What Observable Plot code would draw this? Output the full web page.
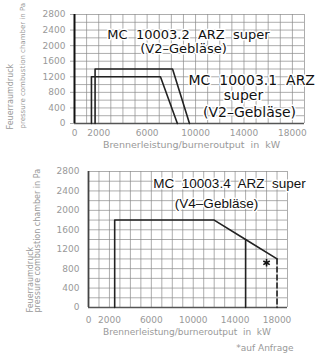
<!DOCTYPE html>
<html>
<head>
<meta charset="utf-8">
<script src="https://cdn.jsdelivr.net/npm/d3@7"></script>
<script src="https://cdn.jsdelivr.net/npm/@observablehq/plot@0.6"></script>
<style>
  html, body { margin: 0; padding: 0; background: white; width: 324px; height: 356px; overflow: hidden; }
  #chartTop, #chartBottom { display: block; }
  svg { display: block; }
  g[aria-label="title"] text { word-spacing: 5.5px; }
  g[aria-label="title2"] text { word-spacing: 3px; }
  g[aria-label="xlabel"] text { letter-spacing: 0.6px; word-spacing: 4px; }
  g[aria-label="ylabel"] text { letter-spacing: 0.2px; }
</style>
</head>
<body>
<div id="chartTop"></div>
<div id="chartBottom"></div>
<script>
// ---- data ----
const xTicks = [0, 2000, 6000, 10000, 14000, 18000];
const yTicks = [0, 400, 800, 1200, 1600, 2000, 2400, 2800];
const xGrid = [0,1000,2000,3000,4000,5000,6000,7000,8000,9000,10000,11000,12000,13000,14000,15000,16000,17000,18000,19000];
const yGrid = [0,200,400,600,800,1000,1200,1400,1600,1800,2000,2200,2400,2600,2800];

// MC 10003.2 ARZ super (V2)
const v32x = [1700, 1700, 8100, 9500];
const v32y = [0, 1400, 1400, 0];
// MC 10003.1 ARZ super (V2)
const v31x = [1400, 1400, 7100, 8500];
const v31y = [0, 1200, 1200, 0];
// MC 10003.4 ARZ super (V4)
const v4x = [2500, 2500, 12000, 15000, 18000];
const v4y = [0, 1800, 1800, 1400, 1000];
const v4limX = [15000, 15000];
const v4limY = [1400, 0];
const v4reqX = [18000, 18000];   // on request (dashed)
const v4reqY = [1000, 0];
const starX = [17000];
const starY = [920];

const xLabel = "Brennerleistung/burneroutput  in  kW";
const yLabel1 = "Feuerraumdruck";
const yLabel2 = "pressure combustion chamber in Pa";
const note = "*auf Anfrage";

const topLabels = [
  {t: "MC  10003.2  ARZ  super", x: 9418, y: 2290, a: "middle", s: 13},
  {t: "(V2–Gebläse)", x: 9005, y: 1910, a: "middle", s: 13},
  {t: "MC  10003.1  ARZ", x: 9418, y: 1105, a: "start", s: 14},
  {t: "super", x: 13960, y: 719, a: "middle", s: 14},
  {t: "(V2–Gebläse)", x: 14457, y: 283, a: "middle", s: 14}
];
const bottomLabels = [
  {t: "MC  10003.4  ARZ  super", x: 13462, y: 2549, a: "middle", s: 13.5},
  {t: "(V4–Gebläse)", x: 12221, y: 2139, a: "middle", s: 13.5}
];

const pts = (xs, ys) => xs.map((x, i) => ({x, y: ys[i]}));
const fmt = d => String(d);
const gridStyle = {stroke: "#8a8a8a", strokeOpacity: 1, strokeWidth: 0.7};

function labelMarks(labels, font, tag) {
  return labels.map(l => Plot.text([l], {
    x: "x", y: "y", text: "t", textAnchor: l.a, fontSize: l.s,
    fontFamily: font, fill: "#111", stroke: "white", strokeWidth: 3,
    ariaLabel: tag
  }));
}

// ---- top chart ----
const plotTop = Plot.plot({
  width: 324, height: 160,
  marginLeft: 74, marginRight: 20, marginTop: 14, marginBottom: 37,
  style: {fontFamily: "DejaVu Sans", fontSize: "9px", color: "#8c8c8c", background: "white", overflow: "visible"},
  x: {domain: [0, 19000]},
  y: {domain: [0, 2800]},
  marks: [
    Plot.gridX(xGrid, gridStyle),
    Plot.gridY(yGrid, gridStyle),
    Plot.axisX(xTicks, {tickSize: 0, tickPadding: 6, label: null, tickFormat: fmt, fill: "#999"}),
    Plot.axisY(yTicks, {tickSize: 4, tickPadding: 5, label: null, tickFormat: fmt, fill: "#999", stroke: "#aaa"}),
    Plot.ruleY([0], {stroke: "#555", strokeWidth: 1.6}),
    Plot.ruleX([0], {stroke: "#111", strokeWidth: 2}),
    Plot.line(pts(v31x, v31y), {x: "x", y: "y", stroke: "#222", strokeWidth: 1.6}),
    Plot.line(pts(v32x, v32y), {x: "x", y: "y", stroke: "#222", strokeWidth: 1.6}),
    ...labelMarks(topLabels, "DejaVu Sans", "title"),
    Plot.text([xLabel], {text: d => d, frameAnchor: "bottom", dx: 2, dy: 24.5, fontSize: 9.5, fill: "#999", ariaLabel: "xlabel"}),
    Plot.text([yLabel1], {text: d => d, frameAnchor: "bottom-left", rotate: -90, textAnchor: "start", dx: -62, dy: 6, fontSize: 8, fill: "#999", ariaLabel: "ylabel"}),
    Plot.text([yLabel2], {text: d => d, frameAnchor: "bottom-left", rotate: -90, textAnchor: "start", dx: -50, dy: 5, fontSize: 7, fill: "#999", ariaLabel: "ylabel"})
  ]
});
document.getElementById("chartTop").append(plotTop);

// ---- bottom chart ----
const plotBottom = Plot.plot({
  width: 324, height: 196,
  marginLeft: 88, marginRight: 37, marginTop: 11, marginBottom: 49,
  style: {fontFamily: "DejaVu Sans", fontSize: "9px", color: "#8c8c8c", background: "white", overflow: "visible"},
  x: {domain: [0, 19000]},
  y: {domain: [0, 2800]},
  marks: [
    Plot.gridX(xGrid, gridStyle),
    Plot.gridY(yGrid, gridStyle),
    Plot.axisX(xTicks, {tickSize: 0, tickPadding: 9, label: null, tickFormat: fmt, fill: "#999"}),
    Plot.axisY(yTicks, {tickSize: 0, tickPadding: 9, label: null, tickFormat: fmt, fill: "#999"}),
    Plot.ruleY([0], {stroke: "#555", strokeWidth: 1.6}),
    Plot.ruleX([0], {stroke: "#444", strokeWidth: 1.8}),
    Plot.line(pts(v4x, v4y), {x: "x", y: "y", stroke: "#222", strokeWidth: 1.6}),
    Plot.line(pts(v4limX, v4limY), {x: "x", y: "y", stroke: "#222", strokeWidth: 1.6}),
    Plot.line(pts(v4reqX, v4reqY), {x: "x", y: "y", stroke: "#222", strokeWidth: 1.6, strokeDasharray: "5,3"}),
    Plot.dot(pts(starX, starY), {x: "x", y: "y", symbol: "asterisk", r: 3.5, stroke: "#111", strokeWidth: 1.6}),
    ...labelMarks(bottomLabels, "Liberation Sans Narrow, Liberation Sans, Arial", "title2"),
    Plot.text([xLabel], {text: d => d, frameAnchor: "bottom", dx: -1, dy: 27, fontSize: 9, fill: "#999", ariaLabel: "xlabel"}),
    Plot.text([note], {text: d => d, frameAnchor: "bottom-right", textAnchor: "end", dx: 6, dy: 43, fontSize: 9, fill: "#999", ariaLabel: "xlabel"}),
    Plot.text([yLabel1], {text: d => d, frameAnchor: "bottom-left", rotate: -90, textAnchor: "start", dx: -56, dy: 5, fontSize: 8, fill: "#999", ariaLabel: "ylabel"}),
    Plot.text([yLabel2], {text: d => d, frameAnchor: "bottom-left", rotate: -90, textAnchor: "start", dx: -49, dy: 5, fontSize: 8, fill: "#999", ariaLabel: "ylabel"})
  ]
});
document.getElementById("chartBottom").append(plotBottom);
</script>
</body>
</html>
